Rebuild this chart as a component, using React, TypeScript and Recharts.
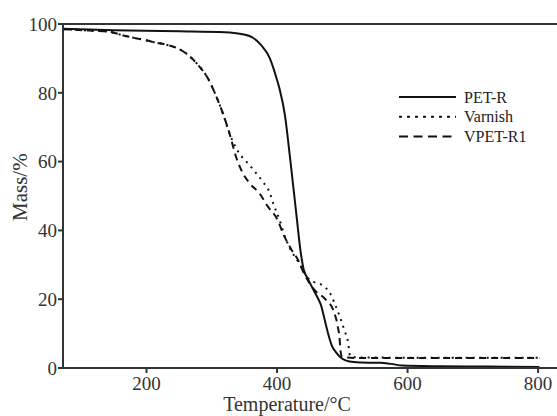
import React from 'react';
import { LineChart, Line, XAxis, YAxis, ReferenceLine } from 'recharts';

const xTicks = [200, 400, 600, 800];
const yTicks = [0, 20, 40, 60, 80, 100];

const petT = [72, 150, 250, 320, 345, 363, 375, 389, 398, 404, 412, 420, 430, 436, 441, 447, 455, 462, 468, 473, 478, 484, 491, 500, 511, 530, 550, 558, 575, 592, 650, 720, 802];
const petM = [98.6, 98.2, 97.9, 97.6, 97.1, 96, 94, 90, 85, 81, 73.6, 61, 44, 34, 28.5, 26, 23, 20.5, 17.9, 14, 10.2, 6.5, 4.4, 2.7, 1.9, 1.6, 1.5, 1.5, 1.2, 0.7, 0.5, 0.4, 0.3];

const varT = [72, 100, 141, 166, 207, 253, 279, 294, 307, 317, 327, 332, 340, 348, 353, 366, 378, 389, 394, 404, 412, 422, 432, 440, 450, 468, 481, 488, 496, 503, 509, 512, 520, 600, 700, 802];
const varM = [98.5, 98.2, 97.8, 96.6, 94.9, 92.4, 88.1, 84.2, 78.9, 74, 68.3, 66, 63, 61, 60, 57.1, 54.2, 50.8, 47.9, 43, 38.2, 34, 31, 28.5, 25.6, 24.2, 21.8, 18.9, 15, 11.1, 7.3, 3.4, 3.1, 3.0, 3.0, 3.0];

const vpeT = [72, 100, 141, 166, 207, 253, 279, 294, 307, 317, 327, 337, 345, 358, 373, 386, 401, 409, 422, 432, 440, 455, 475, 486, 493, 496, 497, 500, 520, 600, 700, 802];
const vpeM = [98.5, 98.2, 97.8, 96.6, 94.9, 92.4, 88.1, 84.2, 78.9, 74, 68.3, 61.5, 57.6, 53.7, 50.8, 46.9, 43, 39.2, 34.4, 31.5, 28, 23.2, 19.8, 16.9, 12.1, 8.2, 5.3, 3.2, 2.9, 2.9, 2.9, 2.9];

const toData = (t: number[], m: number[]) => t.map((v, i) => ({ t: v, m: m[i] }));

const series = [
  { name: 'PET-R', data: toData(petT, petM), dash: undefined as string | undefined, legendDash: undefined as string | undefined },
  { name: 'Varnish', data: toData(varT, varM), dash: '2 5', legendDash: '3 5' },
  { name: 'VPET-R1', data: toData(vpeT, vpeM), dash: '7 5', legendDash: '9 5.5' },
];

const FONT = '"Liberation Serif", "Times New Roman", serif';
const INK = '#333';

const LegendBox = () => (
  <svg width={130} height={60} style={{ display: 'block' }}>
    {series.map((s, i) => (
      <g key={s.name}>
        <line x1={0} x2={57} y1={9 + i * 19.7} y2={9 + i * 19.7} stroke="#111" strokeWidth={2} strokeDasharray={s.legendDash} />
        <text x={65} y={9 + i * 19.7} dy="0.35em" fontFamily={FONT} fontSize={16} fill="#222">{s.name}</text>
      </g>
    ))}
  </svg>
);

export default function App() {
  return (
    <div style={{ position: 'absolute', left: 0, top: 0, width: 557, height: 416, background: '#fff' }}>
      <LineChart width={557} height={416} margin={{ top: 24, right: 0, bottom: 0, left: 0 }}>
        <XAxis
          type="number"
          dataKey="t"
          domain={[72, 829]}
          ticks={xTicks}
          allowDataOverflow
          height={48}
          stroke={INK}
          strokeWidth={2}
          tickSize={5}
          tickMargin={4}
          tick={{ fill: INK, fontSize: 19, fontFamily: FONT }}
          label={{ value: 'Temperature/°C', position: 'insideBottom', offset: 5, dx: -23, fill: INK, fontSize: 20, fontFamily: FONT }}
        />
        <YAxis
          type="number"
          domain={[0, 100]}
          ticks={yTicks}
          width={63}
          stroke={INK}
          strokeWidth={2}
          tickSize={5}
          tickMargin={1}
          tick={{ fill: INK, fontSize: 19, fontFamily: FONT }}
          label={{ value: 'Mass/%', angle: -90, position: 'insideLeft', offset: 20, dy: 25, fill: INK, fontSize: 21, fontFamily: FONT }}
        />
        <ReferenceLine y={100} stroke={INK} strokeWidth={2} />
        {series.map((s) => (
          <Line
            key={s.name}
            data={s.data}
            dataKey="m"
            name={s.name}
            type="monotone"
            stroke="#111"
            strokeWidth={2}
            strokeDasharray={s.dash}
            dot={false}
            activeDot={false}
            isAnimationActive={false}
          />
        ))}
      </LineChart>
      <div style={{ position: 'absolute', left: 399, top: 88 }}>
        <LegendBox />
      </div>
    </div>
  );
}
